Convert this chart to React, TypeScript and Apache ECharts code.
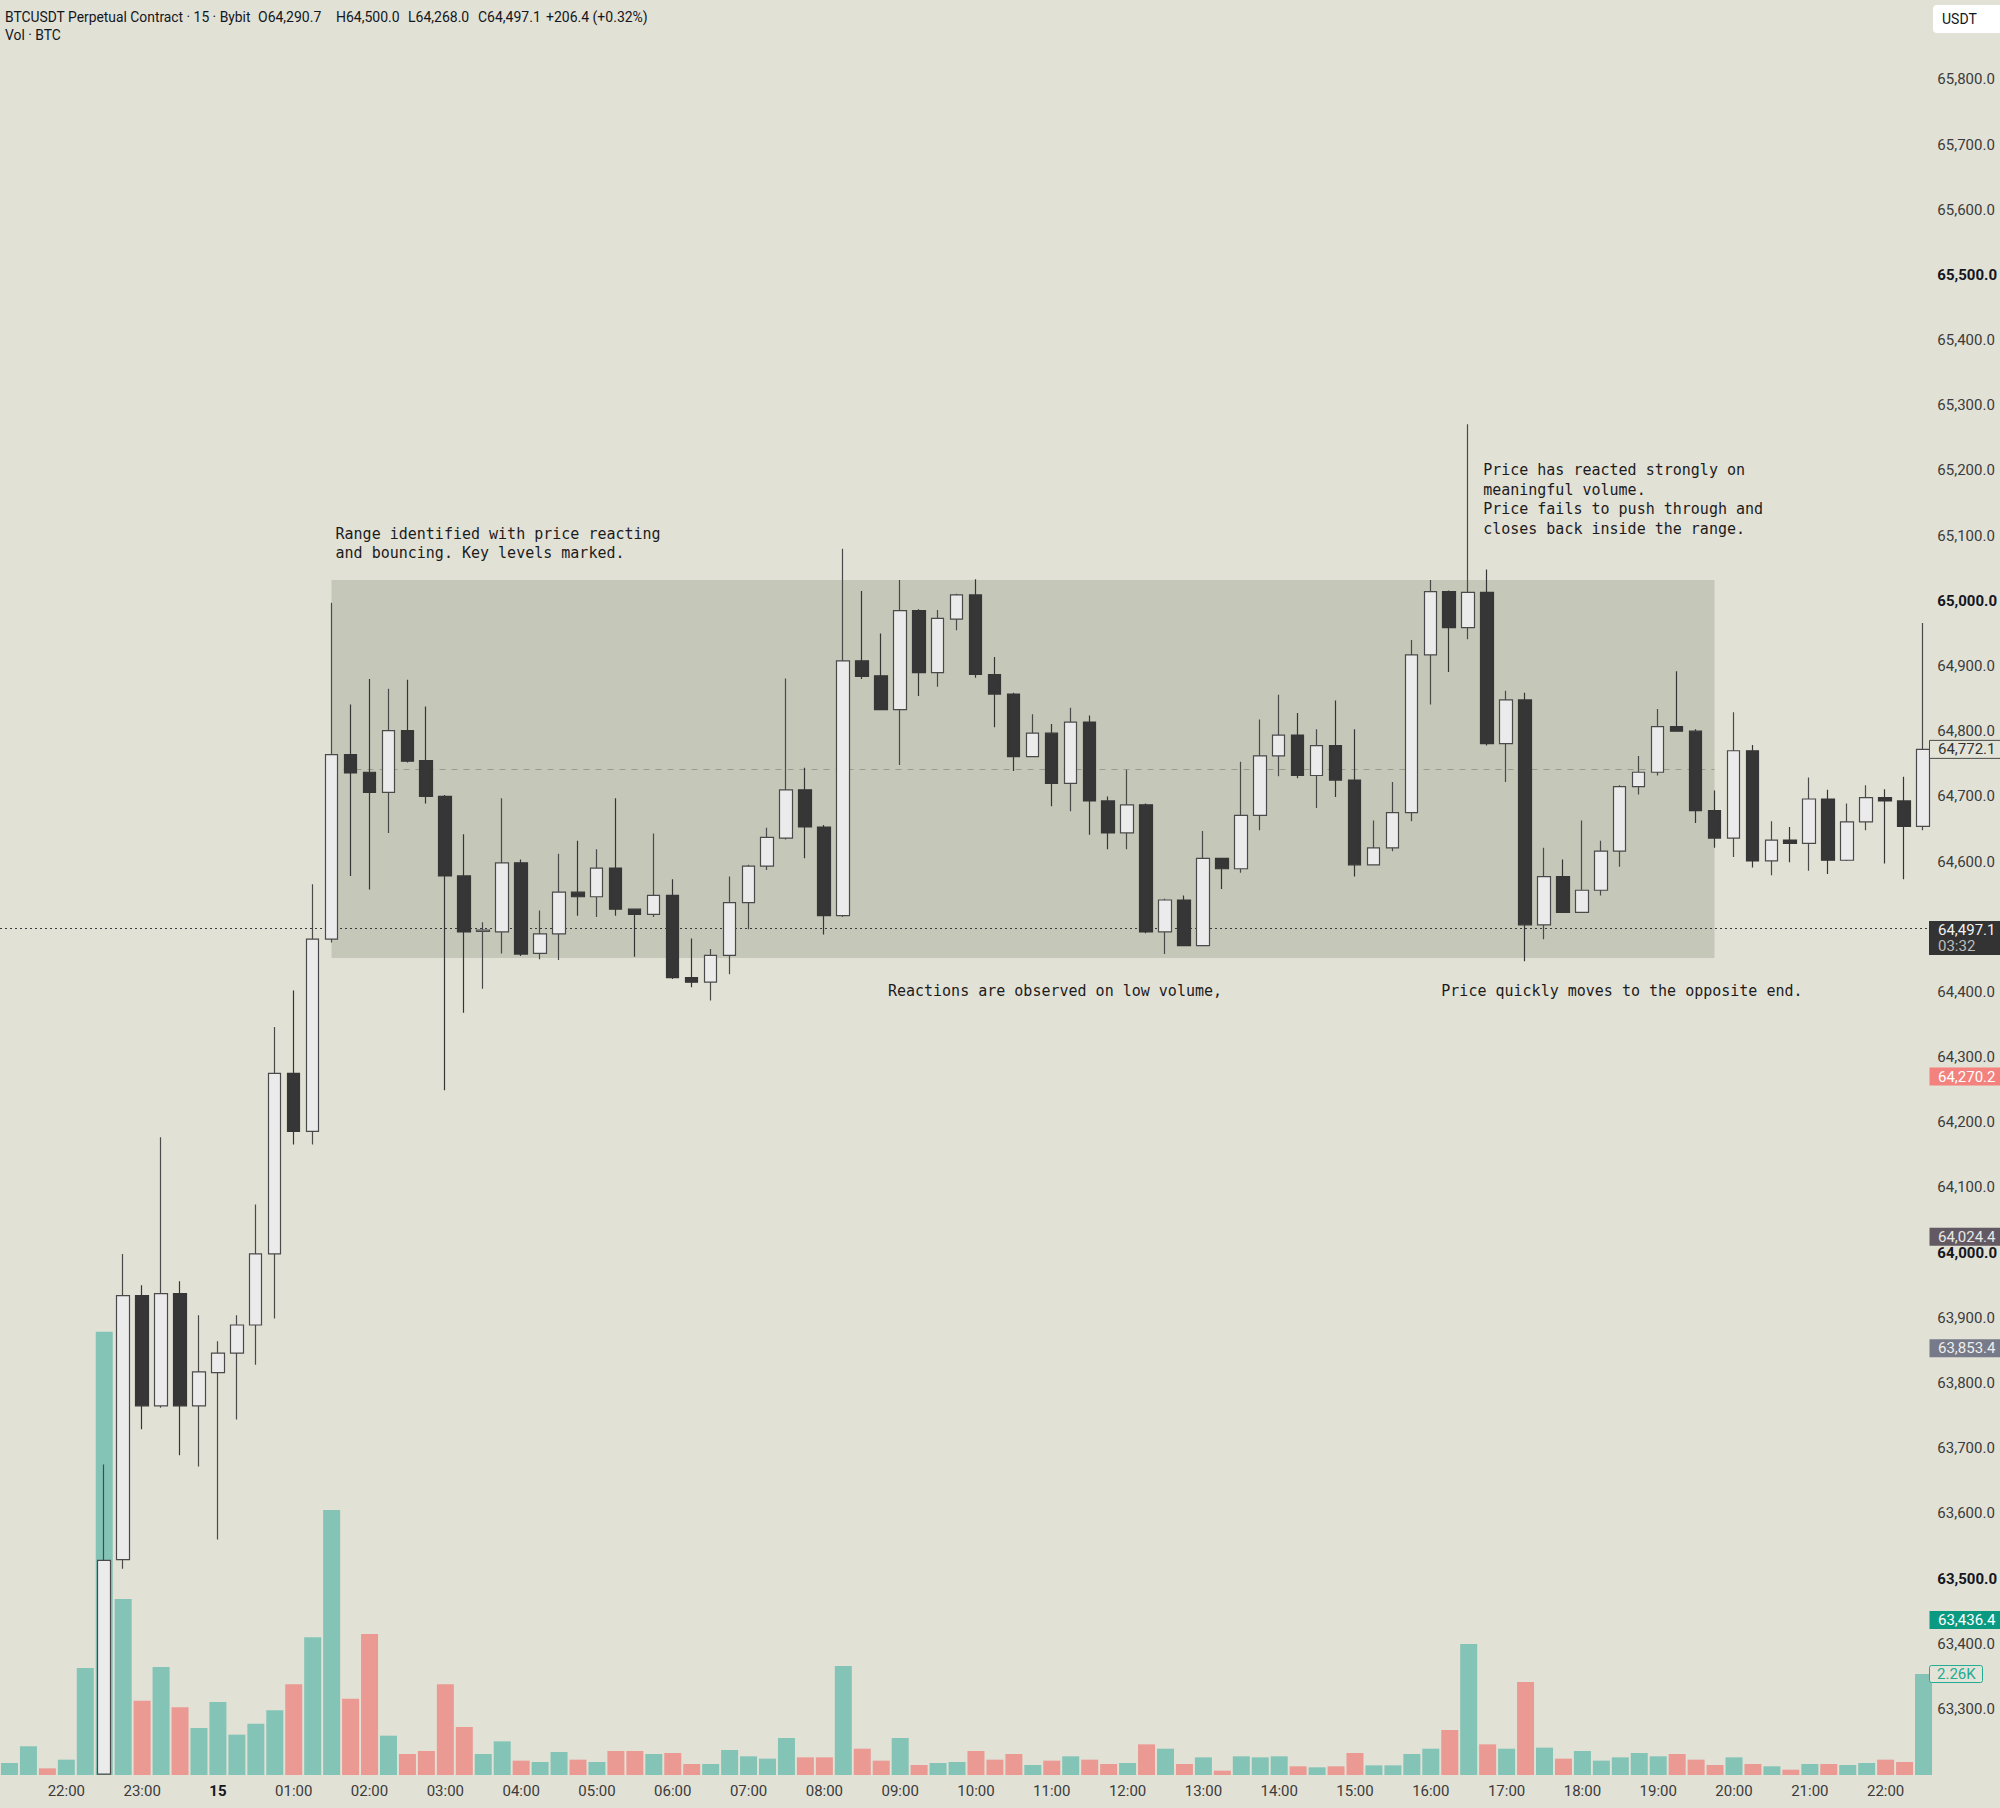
import React, { useEffect, useRef } from 'react';
import * as echarts from 'echarts';

// ---------- data ----------
const BAR_COUNT = 102;
const START_MINUTE = 21 * 60 + 15; // first bar 21:15, 15-minute bars
const times: string[] = Array.from({ length: BAR_COUNT }, (_, i) => {
  const m = (START_MINUTE + i * 15) % (24 * 60);
  return `${String(Math.floor(m / 60)).padStart(2, '0')}:${String(m % 60).padStart(2, '0')}`;
});

const N = null;
const opens: (number | null)[] = [
  N, N, N, N, N,
  63200, 63529, 63934, 63765, 63937, 63765, 63816, 63846, 63889, 63998,
  64275, 64186, 64481, 64764, 64737, 64706, 64801, 64755, 64700, 64578,
  64493, 64492, 64598, 64459, 64489, 64553, 64546, 64590, 64527, 64519,
  64548, 64422, 64415, 64456, 64537, 64593, 64636, 64710, 64653, 64517,
  64908, 64885, 64833, 64985, 64890, 64972, 65009, 64887, 64857, 64761,
  64797, 64720, 64814, 64693, 64644, 64687, 64492, 64541, 64471, 64605,
  64589, 64671, 64762, 64794, 64732, 64778, 64725, 64595, 64621, 64675,
  64917, 65014, 64959, 65013, 64781, 64848, 64503, 64577, 64522, 64556,
  64616, 64715, 64737, 64807, 64800, 64678, 64636, 64770, 64601, 64633,
  64628, 64696, 64602, 64661, 64698, 64693, 64654,
];
const closes: (number | null)[] = [
  N, N, N, N, N,
  63528, 63934, 63765, 63937, 63765, 63817, 63846, 63889, 63998, 64275,
  64186, 64481, 64764, 64736, 64706, 64801, 64754, 64700, 64578, 64492,
  64495, 64598, 64458, 64489, 64553, 64546, 64590, 64527, 64519, 64548,
  64422, 64415, 64456, 64537, 64593, 64637, 64710, 64653, 64517, 64908,
  64884, 64833, 64985, 64890, 64973, 65009, 64887, 64857, 64761, 64797,
  64720, 64814, 64693, 64644, 64687, 64492, 64541, 64471, 64605, 64589,
  64671, 64762, 64794, 64732, 64778, 64725, 64595, 64621, 64675, 64917,
  65014, 64959, 65013, 64781, 64848, 64503, 64577, 64522, 64556, 64616,
  64715, 64737, 64807, 64800, 64678, 64636, 64770, 64601, 64633, 64628,
  64696, 64602, 64661, 64698, 64693, 64654, 64772.1,
];
const lows: (number | null)[] = [
  N, N, N, N, N,
  63200, 63515, 63729, 63762, 63689, 63672, 63560, 63744, 63828, 63899,
  64166, 64166, 64476, 64578, 64557, 64644, 64752, 64689, 64249, 64368,
  64405, 64459, 64455, 64450, 64449, 64517, 64515, 64517, 64454, 64515,
  64420, 64407, 64387, 64427, 64496, 64587, 64634, 64605, 64488, 64515,
  64880, 64832, 64748, 64854, 64868, 64955, 64882, 64806, 64739, 64760,
  64685, 64677, 64641, 64619, 64619, 64490, 64458, 64470, 64470, 64558,
  64583, 64648, 64731, 64728, 64682, 64699, 64577, 64594, 64616, 64662,
  64841, 64891, 64941, 64778, 64722, 64447, 64481, 64521, 64521, 64548,
  64592, 64703, 64732, 64799, 64659, 64621, 64607, 64591, 64579, 64599,
  64586, 64581, 64601, 64648, 64597, 64573, 64648,
];
const highs: (number | null)[] = [
  N, N, N, N, N,
  63675, 63998, 63950, 64177, 63956, 63904, 63864, 63904, 64074, 64346,
  64402, 64565, 64997, 64841, 64880, 64865, 64879, 64838, 64702, 64642,
  64507, 64697, 64603, 64525, 64612, 64632, 64619, 64697, 64528, 64643,
  64573, 64482, 64466, 64577, 64595, 64652, 64881, 64744, 64656, 65080,
  65015, 64950, 65032, 64987, 64986, 65011, 65033, 64914, 64859, 64826,
  64811, 64836, 64824, 64700, 64741, 64689, 64543, 64548, 64647, 64606,
  64753, 64818, 64856, 64828, 64803, 64847, 64803, 64663, 64722, 64940,
  65032, 65016, 65271, 65048, 64862, 64859, 64621, 64603, 64663, 64632,
  64717, 64762, 64834, 64892, 64803, 64709, 64829, 64779, 64662, 64653,
  64729, 64710, 64689, 64717, 64711, 64730, 64966,
];
const volumes: number[] = [
  269, 642, 149, 343, 2395,
  9920, 3939, 1664, 2417, 1514, 1052, 1634, 903, 1149, 1447,
  2029, 3081, 5931, 1708, 3156, 880, 470, 537, 2029, 1074,
  470, 753, 321, 291, 515, 343, 291, 537, 537, 470,
  492, 246, 246, 560, 418, 366, 828, 395, 395, 2439,
  589, 321, 828, 224, 269, 291, 537, 343, 470, 224,
  321, 418, 343, 246, 269, 686, 589, 246, 395, 97,
  418, 395, 418, 194, 172, 194, 492, 216, 216, 470,
  589, 1007, 2932, 686, 589, 2081, 612, 366, 537, 321,
  395, 492, 418, 470, 343, 224, 395, 246, 194, 119,
  246, 246, 224, 269, 343, 291, 2260,
];
// direction of the volume bars whose candles lie below the visible price range
const hiddenBarsUp: boolean[] = [true, true, false, true, true];

const rangeTop = 65032;
const rangeBottom = 64452;
const rangeStart = '01:30';
const rangeEnd = '19:45';

const lastPrice = 64497.1;
const countdown = '03:32';
const tagValues: number[] = [64772.1, 64270.2, 64024.4, 63853.4, 63436.4];

const legendTitle = 'BTCUSDT Perpetual Contract · 15 · Bybit';
const legendValues: string[] = ['O64,290.7', 'H64,500.0', 'L64,268.0', 'C64,497.1', '+206.4 (+0.32%)'];
const volumeTitle = 'Vol · BTC';

const annotationTexts: string[] = [
  'Range identified with price reacting\nand bouncing. Key levels marked.',
  'Reactions are observed on low volume,',
  'Price quickly moves to the opposite end.',
  'Price has reacted strongly on\nmeaningful volume.\nPrice fails to push through and\ncloses back inside the range.',
];
const annotationAnchors: [string, number][] = [
  ['01:30', 65118],
  ['08:45', 64402],
  ['16:00', 64402],
  ['16:45', 65215],
];

// ---------- styles ----------
const BG = '#e2e1d6';
const RANGE_FILL = '#c5c7b9';
const UP_BODY = '#ebebeb';
const UP_BORDER = '#4a4a4a';
const DOWN_BODY = '#363636';
const VOL_UP = '#84c4b6';
const VOL_DOWN = '#ea9a92';
const AXIS_TEXT = '#3b3b3b';
const DARK_TEXT = '#131722';
const UI_FONT = 'Roboto, "Noto Sans", sans-serif';
const MONO_FONT = '"DejaVu Sans Mono", "Liberation Mono", monospace';

const tagStyles = [
  { fill: '#e4e3d8', stroke: '#4a4a4a', text: '#333333' },
  { fill: '#f3817d', stroke: null, text: '#ffffff' },
  { fill: '#625963', stroke: null, text: '#e8e8e8' },
  { fill: '#777a88', stroke: null, text: '#eeeeee' },
  { fill: '#0a9a82', stroke: null, text: '#ffffff' },
];
const legendX: number[] = [258, 336, 408, 478, 546];
const annotationOffsets: number[] = [4, 7, 11, -4];
const annotationVAlign: string[] = ['top', 'middle', 'middle', 'top'];

const fmtPrice = (v: number) =>
  v.toLocaleString('en-US', { minimumFractionDigits: 1, maximumFractionDigits: 1 });

const GRID_LEFT = -4;
const GRID_WIDTH = 1937;

export default function App() {
  const ref = useRef<HTMLDivElement>(null);

  useEffect(() => {
    document.body.style.margin = '0';
    document.body.style.background = BG;
    const chart = echarts.init(ref.current!, null, { renderer: 'svg' });

    const candleData = times.map((_, i) =>
      opens[i] == null ? ['-', '-', '-', '-'] : [opens[i], closes[i], lows[i], highs[i]]
    );
    const volumeData = volumes.map((v, i) => {
      const up = opens[i] == null ? hiddenBarsUp[i] : (closes[i] as number) >= (opens[i] as number);
      return { value: v, itemStyle: { color: up ? VOL_UP : VOL_DOWN } };
    });

    chart.setOption({
      animation: false,
      backgroundColor: BG,
      grid: [
        { left: GRID_LEFT, width: GRID_WIDTH, top: 14.2, height: 1759.9 },
        { left: GRID_LEFT, width: GRID_WIDTH, top: 1216.5, height: 558.5 },
      ],
      xAxis: [
        {
          type: 'category', gridIndex: 0, data: times, boundaryGap: true,
          axisLine: { show: false }, axisTick: { show: false }, axisLabel: { show: false }, splitLine: { show: false },
        },
        {
          type: 'category', gridIndex: 1, data: times, boundaryGap: true,
          axisLine: { show: false }, axisTick: { show: false }, splitLine: { show: false },
          axisLabel: {
            interval: (index: number) => index % 4 === 3,
            margin: 8,
            fontSize: 15,
            fontFamily: UI_FONT,
            color: AXIS_TEXT,
            formatter: (v: string) => (v === '00:00' ? '{b|15}' : v),
            rich: { b: { fontSize: 15, fontFamily: UI_FONT, fontWeight: 'bold', color: DARK_TEXT } },
          },
        },
      ],
      yAxis: [
        {
          type: 'value', gridIndex: 0, position: 'right', min: 63200, max: 65900, interval: 100,
          axisLine: { show: false }, axisTick: { show: false }, splitLine: { show: false },
          axisLabel: {
            margin: 5,
            fontSize: 15,
            fontFamily: UI_FONT,
            color: AXIS_TEXT,
            align: 'left',
            formatter: (v: number) => {
              if (v === 63200 || v === 65900 || v === 64500) return '';
              const s = fmtPrice(v);
              return v % 500 === 0 ? `{b|${s}}` : s;
            },
            rich: { b: { fontSize: 15, fontFamily: UI_FONT, fontWeight: 'bold', color: DARK_TEXT } },
          },
        },
        { type: 'value', gridIndex: 1, min: 0, max: 12500, show: false },
      ],
      series: [
        {
          type: 'bar', xAxisIndex: 1, yAxisIndex: 1, data: volumeData, barWidth: 17, z: 1, silent: true,
        },
        {
          type: 'candlestick', xAxisIndex: 0, yAxisIndex: 0, data: candleData, barWidth: 13, z: 10, silent: true,
          clip: true,
          itemStyle: {
            color: UP_BODY, color0: DOWN_BODY, borderColor: UP_BORDER, borderColor0: DOWN_BODY, borderWidth: 1.2,
          },
          markArea: {
            silent: true,
            itemStyle: { color: RANGE_FILL },
            data: [[{ xAxis: rangeStart, yAxis: rangeTop }, { xAxis: rangeEnd, yAxis: rangeBottom }]],
          },
          markLine: {
            silent: true,
            z: 4,
            symbol: ['none', 'none'],
            label: { show: false },
            data: [
              { yAxis: lastPrice, lineStyle: { type: [2, 3], color: '#3a3a3a', width: 1.2 } },
              [
                { xAxis: rangeStart, yAxis: (rangeTop + rangeBottom) / 2, lineStyle: { type: [6, 6], color: '#9a9c90', width: 1.2 } },
                { xAxis: rangeEnd, yAxis: (rangeTop + rangeBottom) / 2 },
              ],
            ],
          },
        },
      ],
    });

    const py = (v: number) => chart.convertToPixel({ yAxisIndex: 0 }, v) as number;
    const pvy = (v: number) => chart.convertToPixel({ yAxisIndex: 1 }, v) as number;
    const pxy = (t: string, v: number) => chart.convertToPixel({ gridIndex: 0 }, [t, v]) as number[];

    const txt = (text: string, x: number, y: number, font: string, fill: string, va = 'middle', extra: any = {}) => ({
      type: 'text', z: 100,
      style: { text, x, y, font, fill, align: 'left', verticalAlign: va, textAlign: 'left', textVerticalAlign: va, ...extra },
    });

    const elements: any[] = [];
    // legend
    elements.push(txt(legendTitle, 5, 16.5, `13.85px ${UI_FONT}`, DARK_TEXT));
    legendValues.forEach((s, i) => elements.push(txt(s, legendX[i], 16.5, `14px ${UI_FONT}`, DARK_TEXT)));
    elements.push(txt(volumeTitle, 5, 35, `13.85px ${UI_FONT}`, DARK_TEXT));

    // currency box
    elements.push({ type: 'rect', z: 99, shape: { x: 1933, y: 5, width: 80, height: 28, r: 4 }, style: { fill: '#ffffff' } });
    elements.push(txt('USDT', 1942, 19, `14px ${UI_FONT}`, DARK_TEXT));

    // price tags
    tagValues.forEach((v, i) => {
      const y = py(v);
      const st = tagStyles[i];
      elements.push({
        type: 'rect', z: 99,
        shape: { x: 1929.5, y: y - 9, width: 75, height: 18 },
        style: { fill: st.fill, stroke: st.stroke || undefined, lineWidth: st.stroke ? 1 : 0 },
      });
      elements.push(txt(fmtPrice(v), 1938, y, `15px ${UI_FONT}`, st.text));
    });

    // last price tag
    const ly = py(lastPrice);
    elements.push({ type: 'rect', z: 99, shape: { x: 1929, y: ly - 7.6, width: 75, height: 34 }, style: { fill: '#333333' } });
    elements.push(txt(fmtPrice(lastPrice), 1938, ly + 1, `15px ${UI_FONT}`, '#f2f2f2'));
    elements.push(txt(countdown, 1938, ly + 17.5, `15px ${UI_FONT}`, '#bdbdbd'));

    // volume tag
    const lastVol = volumes[volumes.length - 1];
    const vy = pvy(lastVol);
    elements.push({
      type: 'rect', z: 99, shape: { x: 1929.5, y: vy - 8.5, width: 53, height: 17, r: 2 },
      style: { fill: '#e4e3d8', stroke: '#22ab94', lineWidth: 1 },
    });
    elements.push(txt(`${(lastVol / 1000).toFixed(2)}K`, 1937, vy, `15px ${UI_FONT}`, '#22ab94'));

    // annotations
    annotationTexts.forEach((t, i) => {
      const [cat, price] = annotationAnchors[i];
      const [x, y] = pxy(cat, price);
      elements.push(txt(t, x + annotationOffsets[i], y, `15px ${MONO_FONT}`, '#1c1c1c', annotationVAlign[i], { lineHeight: 19.5 }));
    });

    chart.setOption({ graphic: { elements } });

    return () => chart.dispose();
  }, []);

  return (
    <div
      ref={ref}
      style={{ position: 'fixed', left: 0, top: 0, width: 2000, height: 1808, background: BG }}
    />
  );
}
